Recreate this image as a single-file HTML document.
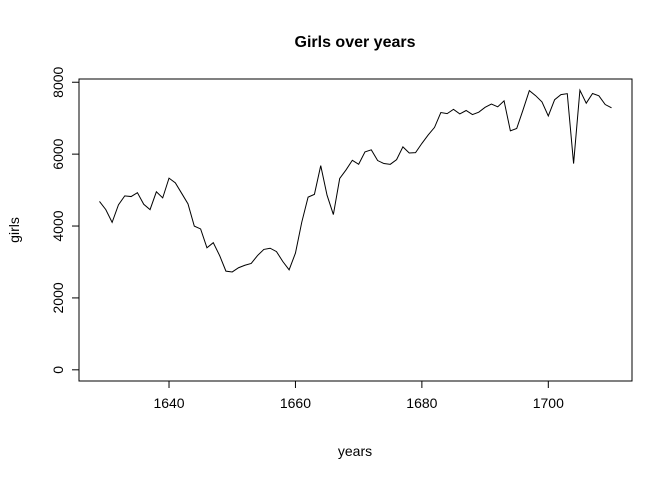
<!DOCTYPE html>
<html><head><meta charset="utf-8"><style>body{margin:0;background:#fff}svg{display:block;font-family:"Liberation Sans",Arial,sans-serif}</style></head>
<body>
<svg id="chart" width="672" height="480">
<text x="355" y="47" text-anchor="middle" font-size="16" font-weight="bold">Girls over years</text>
<text x="355" y="456" text-anchor="middle" font-size="14">years</text>
<text transform="translate(19,230) rotate(-90)" text-anchor="middle" font-size="14">girls</text>
<rect x="79" y="79" width="553" height="302" fill="none" stroke="#000"/>
<g id="axes"></g>
<polyline id="line" fill="none" stroke="#000" stroke-width="1"/>
</svg>
<script>
const years=[];for(let y=1629;y<=1710;y++)years.push(y);
const girls=[4683,4457,4102,4590,4839,4820,4928,4605,4457,4952,4784,5332,5200,4910,4617,3997,3919,3395,3536,3181,2746,2722,2840,2908,2959,3179,3349,3382,3289,3013,2781,3247,4107,4803,4881,5681,4858,4319,5322,5560,5829,5719,6061,6120,5822,5738,5717,5847,6203,6033,6041,6299,6533,6744,7158,7127,7246,7119,7214,7101,7167,7302,7392,7316,7483,6647,6713,7229,7767,7626,7452,7061,7514,7656,7683,5738,7779,7417,7687,7623,7380,7288];
const xTicks=[1640,1660,1680,1700];
const yTicks=[0,2000,4000,6000,8000];
const X0=1625.76,X1=1713.24,Y0=-311.16,Y1=8090.16;
const L=79,R=632,T=79,B=381;
const sx=v=>L+(v-X0)/(X1-X0)*(R-L);
const sy=v=>B-(v-Y0)/(Y1-Y0)*(B-T);
const ns="http://www.w3.org/2000/svg";
const g=document.getElementById('axes');
function mk(t,a){const e=document.createElementNS(ns,t);for(const k in a)e.setAttribute(k,a[k]);g.appendChild(e);return e;}
mk('line',{x1:sx(xTicks[0]),x2:sx(xTicks[xTicks.length-1]),y1:B,y2:B,stroke:'#000'});
mk('line',{x1:L,x2:L,y1:sy(yTicks[0]),y2:sy(yTicks[yTicks.length-1]),stroke:'#000'});
xTicks.forEach(v=>{
 const t=mk('line',{x1:sx(v),x2:sx(v),y1:B,y2:B+7,stroke:'#000'});
 
 
 const l=mk('text',{x:sx(v),y:B+27,'text-anchor':'middle','font-size':14});l.textContent=v;
 
 
});
yTicks.forEach(v=>{
 const t=mk('line',{x1:L-7,x2:L,y1:sy(v),y2:sy(v),stroke:'#000'});
 
 
 const l=mk('text',{transform:`translate(${L-16},${sy(v)}) rotate(-90)`,'text-anchor':'middle','font-size':14});l.textContent=v;
 
 
});
document.getElementById('line').setAttribute('points',years.map((y,i)=>sx(y).toFixed(2)+','+sy(girls[i]).toFixed(2)).join(' '));
</script>
</body></html>
